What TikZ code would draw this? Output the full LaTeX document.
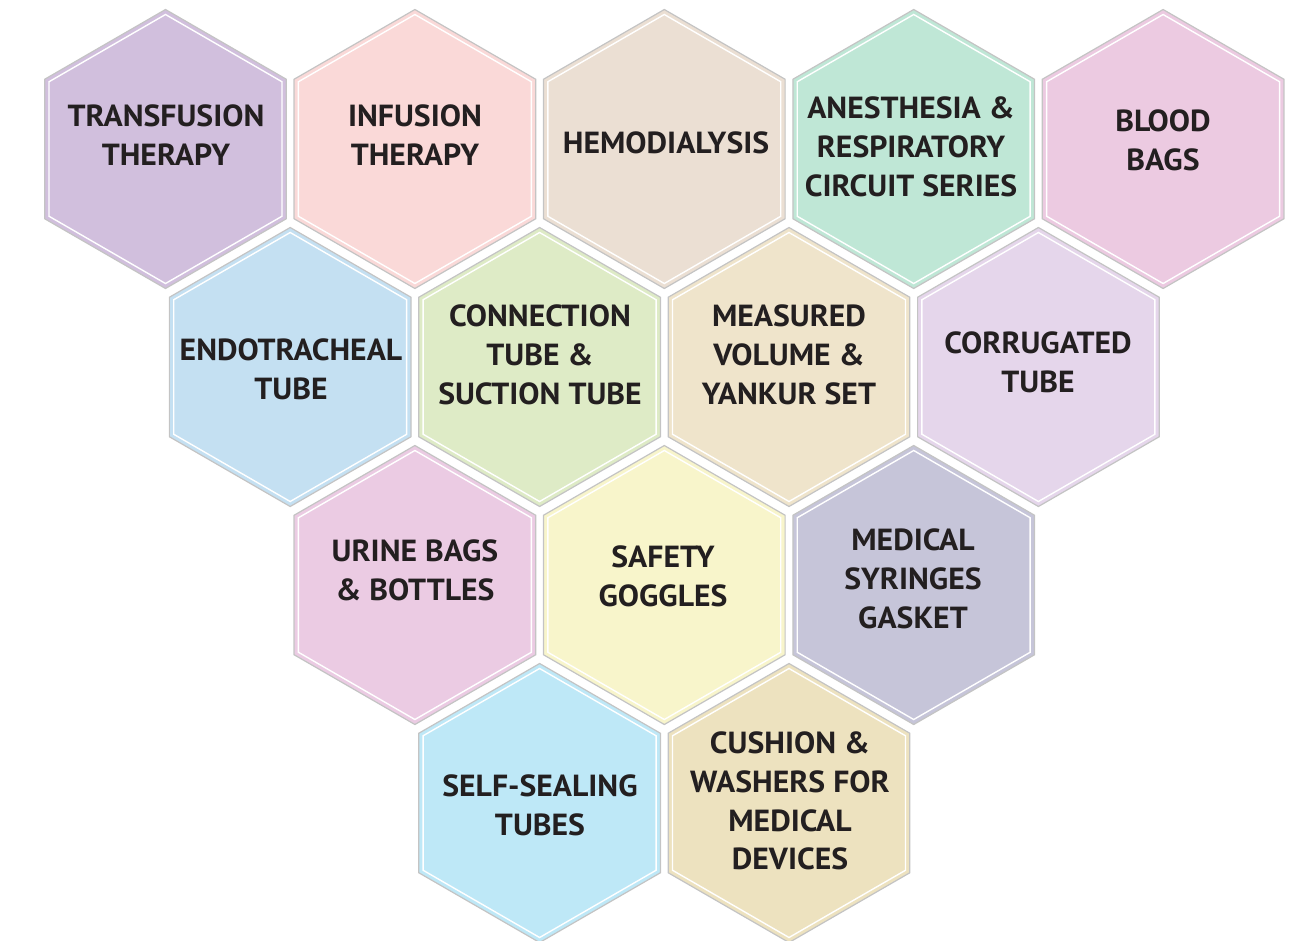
\documentclass[tikz,border=0pt]{standalone}
\usepackage{fontspec}
\setmainfont{PT Sans}[BoldFeatures={FakeStretch=1.04}]
\usetikzlibrary{shapes.geometric}

\definecolor{txtdark}{HTML}{231F20}
\definecolor{rimgray}{HTML}{C4C4C4}
\definecolor{cTransfusion}{HTML}{D1BFDD}
\definecolor{cInfusion}{HTML}{FAD9D8}
\definecolor{cHemo}{HTML}{EBDFD3}
\definecolor{cAnesthesia}{HTML}{BFE7D6}
\definecolor{cBlood}{HTML}{ECCAE1}
\definecolor{cEndo}{HTML}{C4E0F2}
\definecolor{cConnection}{HTML}{DEEBC6}
\definecolor{cMeasured}{HTML}{EFE4CB}
\definecolor{cCorrugated}{HTML}{E5D6EB}
\definecolor{cUrine}{HTML}{EBCBE3}
\definecolor{cSafety}{HTML}{F8F5CB}
\definecolor{cSyringe}{HTML}{C6C5D9}
\definecolor{cSealing}{HTML}{BEE8F7}
\definecolor{cCushion}{HTML}{EDE2BF}

\begin{document}
\begin{tikzpicture}[x=1pt, y=-1pt,
  hexcell/.style={regular polygon, regular polygon sides=6, shape border rotate=30, minimum size=279pt, inner sep=0pt, outer sep=0pt, draw=rimgray, line width=1.2pt},
  hexline/.style={regular polygon, regular polygon sides=6, shape border rotate=30, minimum size=269pt, inner sep=0pt, outer sep=0pt, draw=white, line width=1.4pt},
  hexlabel/.style={font={\bfseries\fontsize{30.5}{38.8}\selectfont}, text=txtdark, align=center, inner sep=0pt}]

\useasboundingbox (0,0) rectangle (1308,940);

% row 1
\node[hexcell, fill=cTransfusion] (transfusion) at (165.5,149) {};
\node[hexcell, fill=cInfusion] (infusion) at (414.9,149) {};
\node[hexcell, fill=cHemo] (hemo) at (664.3,149) {};
\node[hexcell, fill=cAnesthesia] (anesthesia) at (913.7,149) {};
\node[hexcell, fill=cBlood] (blood) at (1163.1,149) {};

% row 2
\node[hexcell, fill=cEndo] (endo) at (290.2,367) {};
\node[hexcell, fill=cConnection] (connection) at (539.6,367) {};
\node[hexcell, fill=cMeasured] (measured) at (789.0,367) {};
\node[hexcell, fill=cCorrugated] (corrugated) at (1038.4,367) {};

% row 3
\node[hexcell, fill=cUrine] (urine) at (414.9,585) {};
\node[hexcell, fill=cSafety] (safety) at (664.3,585) {};
\node[hexcell, fill=cSyringe] (syringe) at (913.7,585) {};

% row 4
\node[hexcell, fill=cSealing] (sealing) at (539.6,803) {};
\node[hexcell, fill=cCushion] (cushion) at (789.0,803) {};

% inner white rims
\node[hexline] (transfusion-rim) at (165.5,149) {};
\node[hexline] (infusion-rim) at (414.9,149) {};
\node[hexline] (hemo-rim) at (664.3,149) {};
\node[hexline] (anesthesia-rim) at (913.7,149) {};
\node[hexline] (blood-rim) at (1163.1,149) {};
\node[hexline] (endo-rim) at (290.2,367) {};
\node[hexline] (connection-rim) at (539.6,367) {};
\node[hexline] (measured-rim) at (789.0,367) {};
\node[hexline] (corrugated-rim) at (1038.4,367) {};
\node[hexline] (urine-rim) at (414.9,585) {};
\node[hexline] (safety-rim) at (664.3,585) {};
\node[hexline] (syringe-rim) at (913.7,585) {};
\node[hexline] (sealing-rim) at (539.6,803) {};
\node[hexline] (cushion-rim) at (789.0,803) {};

% labels
\node[hexlabel] (transfusion-txt) at (166,135) {TRANSFUSION\\THERAPY};
\node[hexlabel] (infusion-txt) at (415,135) {INFUSION\\THERAPY};
\node[hexlabel] (hemo-txt) at (666,143) {HEMODIALYSIS};
\node[hexlabel] (anesthesia-txt) at (911,147) {ANESTHESIA \&\\RESPIRATORY\\CIRCUIT SERIES};
\node[hexlabel] (blood-txt) at (1163,140) {BLOOD\\BAGS};
\node[hexlabel] (endo-txt) at (291,369) {ENDOTRACHEAL\\TUBE};
\node[hexlabel] (connection-txt) at (540,355) {CONNECTION\\TUBE \&\\SUCTION TUBE};
\node[hexlabel] (measured-txt) at (789,355) {MEASURED\\VOLUME \&\\YANKUR SET};
\node[hexlabel] (corrugated-txt) at (1038,362) {CORRUGATED\\TUBE};
\node[hexlabel] (urine-txt) at (415,570) {URINE BAGS\\\& BOTTLES};
\node[hexlabel] (safety-txt) at (663,576) {SAFETY\\GOGGLES};
\node[hexlabel] (syringe-txt) at (913,579) {MEDICAL\\SYRINGES\\GASKET};
\node[hexlabel] (sealing-txt) at (540,805) {SELF-SEALING\\TUBES};
\node[hexlabel] (cushion-txt) at (790,801) {CUSHION \&\\WASHERS FOR\\MEDICAL\\DEVICES};

\end{tikzpicture}
\end{document}
